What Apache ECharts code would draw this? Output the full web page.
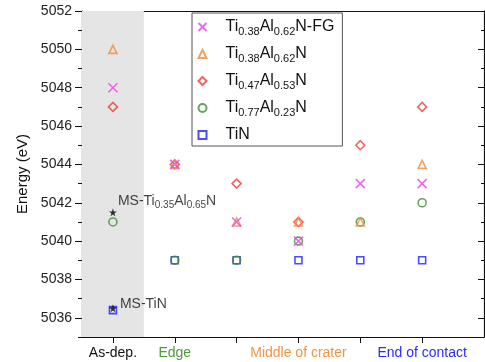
<!DOCTYPE html>
<html><head><meta charset="utf-8">
<script src="https://cdn.jsdelivr.net/npm/echarts@6/dist/echarts.min.js"></script>
<style>html,body{margin:0;padding:0;background:#fff}#c{width:485px;height:362px}</style>
</head><body><div id="c"></div>
<script>
// positions: 1 = As-dep., 2 = Edge, 4 = Middle of crater, 6 = End of contact
const xPos = [1, 2, 3, 4, 5, 6];
const fg   = [5048, 5044, 5041, 5040, 5043, 5043];   // Ti0.38Al0.62N-FG
const t38  = [5050, 5044, 5041, 5041, 5041, 5044];   // Ti0.38Al0.62N
const t47  = [5047, 5044, 5043, 5041, 5045, 5047];   // Ti0.47Al0.53N
const t77  = [5041, 5039, 5039, 5040, 5041, 5042];   // Ti0.77Al0.23N
const tin  = [5036.4, 5039, 5039, 5039, 5039, 5039]; // TiN
const msX = [1, 1];
const msY = [5041.5, 5036.5];
const msNames = ['MS-Ti{s|0.35}Al{s|0.65}N', 'MS-TiN'];
const xTickLabels = {1: '{k|As-dep.}', 2: '{g|Edge}', 4: '{o|Middle of crater}', 6: '{b|End of contact}'};
const yMajor = [5036, 5038, 5040, 5042, 5044, 5046, 5048, 5050, 5052];
const yMinor = [5035, 5037, 5039, 5041, 5043, 5045, 5047, 5049, 5051];
const legendNames = ['Ti{s|0.38}Al{s|0.62}N-FG', 'Ti{s|0.38}Al{s|0.62}N', 'Ti{s|0.47}Al{s|0.53}N', 'Ti{s|0.77}Al{s|0.23}N', 'TiN'];

const pts = arr => xPos.map((x, i) => [x, arr[i]]);
const FONT = 'Liberation Sans, Arial, sans-serif';
const crossPath = 'path://M0,0L10,10M10,0L0,10';

function sc(name, data, symbol, color, size, z) {
  return {
    name, type: 'scatter', data: pts(data), symbol, symbolSize: size, z,
    itemStyle: { color: 'none', borderColor: color, borderWidth: 1.6 },
    emphasis: { disabled: true }
  };
}
const subRich = {
  n: { fontSize: 16, fontFamily: FONT, color: '#111' },
  s: { fontSize: 11, fontFamily: FONT, color: '#111', verticalAlign: 'bottom', padding: [9, 0, 0, 0] }
};
const AX = '#111';

const chart = echarts.init(document.getElementById('c'));
const yBase = { type: 'value', min: 5035, max: 5052, splitLine: { show: false } };
chart.setOption({
  animation: false,
  grid: { left: 82, right: 1, top: 11, bottom: 25 },
  xAxis: [
    { type: 'value', min: 0.5, max: 7, position: 'bottom',
      axisLine: { lineStyle: { color: AX, width: 1.2 } },
      axisTick: { show: true, customValues: xPos, length: 6, lineStyle: { color: AX } },
      axisLabel: { customValues: [1, 2, 4, 6], margin: 9, formatter: v => xTickLabels[v] || '',
        rich: {
          k: { fontSize: 14, fontFamily: FONT, color: '#111' },
          g: { fontSize: 14, fontFamily: FONT, color: '#4f9a3c' },
          o: { fontSize: 14, fontFamily: FONT, color: '#f5933f' },
          b: { fontSize: 14, fontFamily: FONT, color: '#2a2aff' }
        } },
      splitLine: { show: false } },
    { type: 'value', min: 0.5, max: 7, position: 'top',
      axisLine: { show: true, lineStyle: { color: AX, width: 1.2 } },
      axisTick: { show: false }, axisLabel: { show: false }, splitLine: { show: false } }
  ],
  yAxis: [
    Object.assign({}, yBase, { position: 'left', name: 'Energy (eV)', nameLocation: 'middle', nameGap: 47,
      nameTextStyle: { fontSize: 15, fontFamily: FONT, color: '#111' },
      axisLine: { show: true, lineStyle: { color: AX, width: 1.2 } },
      axisTick: { show: true, customValues: yMajor, length: 7, lineStyle: { color: AX } },
      axisLabel: { customValues: yMajor, margin: 10, fontSize: 14, fontFamily: FONT, color: '#222', formatter: v => String(v) } }),
    Object.assign({}, yBase, { position: 'left',
      axisLine: { show: false },
      axisTick: { show: true, customValues: yMinor, length: 4, lineStyle: { color: AX } },
      axisLabel: { show: false } }),
    Object.assign({}, yBase, { position: 'right',
      axisLine: { show: true, lineStyle: { color: AX, width: 1.2 } },
      axisTick: { show: true, inside: true, customValues: yMajor, length: 6, lineStyle: { color: AX } },
      axisLabel: { show: false } }),
    Object.assign({}, yBase, { position: 'right',
      axisLine: { show: false },
      axisTick: { show: true, inside: true, customValues: yMinor, length: 3, lineStyle: { color: AX } },
      axisLabel: { show: false } })
  ],
  legend: {
    orient: 'vertical', left: 192, top: 13,
    data: legendNames,
    itemWidth: 8, itemHeight: 8, itemGap: 9,
    padding: [6, 8, 3, 4],
    borderColor: '#555', borderWidth: 1,
    selectedMode: false,
    formatter: n => n.replace(/(^|\})([^{}]+)(?=\{|$)/g, (a, p, t) => p + '{n|' + t + '}'),
    textStyle: { rich: subRich, padding: [0, 0, 0, 14] }
  },
  series: [
    Object.assign(sc(legendNames[4], tin, 'rect', '#1f1fff', 7, 2), {
      markArea: { silent: true, itemStyle: { color: '#e5e5e5' }, data: [[{ xAxis: 0.5 }, { xAxis: 1.5 }]] }
    }),
    sc(legendNames[3], t77, 'circle', '#3d8f33', 8, 3),
    sc(legendNames[2], t47, 'diamond', '#ea3e3a', 9, 4),
    sc(legendNames[1], t38, 'triangle', '#f28a3c', 8, 5),
    sc(legendNames[0], fg, crossPath, '#e546e8', 9, 6),
    { name: 'MS', type: 'scatter', z: 7, symbol: 'path://M50,0L61,35L98,35L68,57L79,91L50,70L21,91L32,57L2,35L39,35Z', symbolSize: 8,
      itemStyle: { color: '#000' },
      data: msX.map((x, i) => ({ value: [x, msY[i]],
        label: { show: true, position: 'right', formatter: msNames[i],
          offset: i === 0 ? [-4, -11] : [-2, -4],
          rich: { n: { fontSize: 14, fontFamily: FONT, color: '#111' },
                  s: { fontSize: 10, fontFamily: FONT, color: '#111', verticalAlign: 'bottom', padding: [8, 0, 0, 0] } } } })),
      label: { show: true, fontSize: 14, fontFamily: FONT, color: '#111' }
    }
  ]
});
</script></body></html>
